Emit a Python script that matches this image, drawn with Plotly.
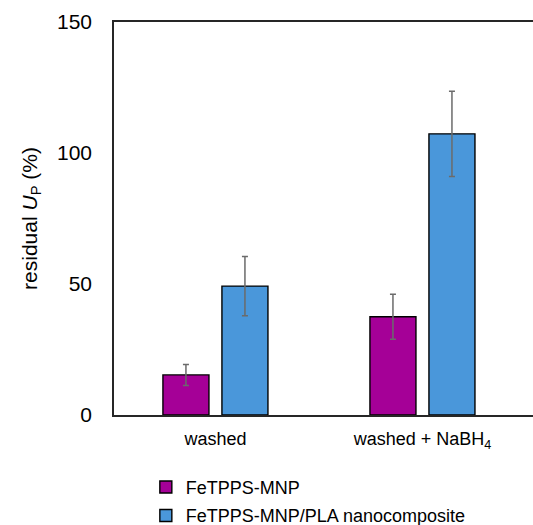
import plotly.graph_objects as go

categories = ["washed", "washed + NaBH<sub>4</sub>"]
series_names = ["FeTPPS-MNP", "FeTPPS-MNP/PLA nanocomposite"]
mnp_values = [15.3, 37.5]
mnp_errors = [4.0, 8.6]
pla_values = [49.2, 107.3]
pla_errors = [11.3, 16.3]
y_ticks = [0, 50, 100, 150]

FONT = "Liberation Sans, Arial, sans-serif"
err_style = dict(type="data", visible=True, color="#6b6b6b", thickness=1.5, width=3)

fig = go.Figure()
fig.add_trace(go.Bar(
    x=categories, y=mnp_values, name=series_names[0], legendgroup="a",
    marker=dict(color="#A50097", line=dict(color="#000000", width=1.4)),
    error_y=dict(array=mnp_errors, **err_style),
))
fig.add_trace(go.Bar(
    x=categories, y=pla_values, name=series_names[1], legendgroup="b",
    marker=dict(color="#4A97DA", line=dict(color="#000000", width=1.4)),
    error_y=dict(array=pla_errors, **err_style),
))

fig.update_layout(
    width=533, height=525,
    margin=dict(l=114, r=0, t=22, b=110, autoexpand=False),
    paper_bgcolor="white", plot_bgcolor="white",
    barmode="group", bargap=0.43, bargroupgap=0.22,
    font=dict(family=FONT, color="#000000"),
    showlegend=True,
    legend=dict(
        orientation="v", x=0.076, xanchor="left", y=-0.137, yanchor="top",
        font=dict(size=18, family=FONT), tracegroupgap=2, itemwidth=30,
        bgcolor="rgba(0,0,0,0)",
    ),
)
fig.update_xaxes(
    range=[-0.49, 1.534], automargin=False,
    showline=True, linecolor="#262626", linewidth=1.5, mirror=True,
    ticks="", ticklabelstandoff=7, tickfont=dict(size=18, family=FONT),
    showgrid=False, zeroline=False, fixedrange=True,
)
fig.update_yaxes(
    range=[0, 150], tickvals=y_ticks, automargin=False,
    showline=True, linecolor="#262626", linewidth=1.5, mirror=False,
    ticks="", ticklabelstandoff=16, tickfont=dict(size=21, family=FONT),
    showgrid=False, zeroline=False,
    title=dict(text="residual <i>U</i><sub>P</sub> (%)", font=dict(size=21, family=FONT), standoff=14),
)

fig.write_html("out.html", config={"displayModeBar": False},
               post_script="document.body.style.margin='0';")
